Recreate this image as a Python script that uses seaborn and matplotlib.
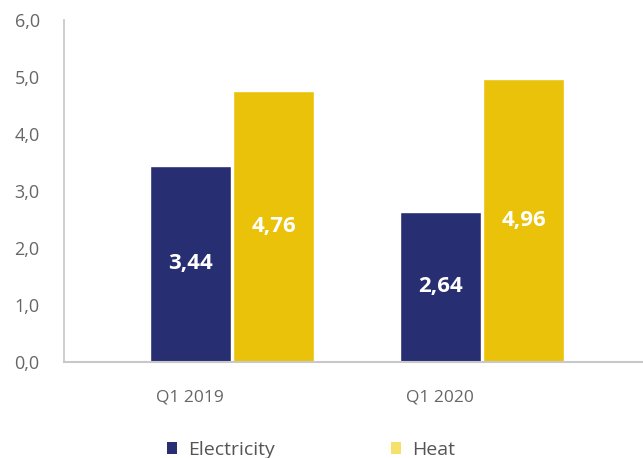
import matplotlib
matplotlib.use("Agg")
import matplotlib.pyplot as plt
import seaborn as sns
import pandas as pd
from matplotlib.patches import Patch

quarters = ["Q1 2019", "Q1 2020"]
electricity = [3.44, 2.64]
heat = [4.76, 4.96]
series = ["Electricity", "Heat"]
bar_colors = ["#282E72", "#EBC20A"]
legend_colors = ["#282E72", "#F5E06A"]

df = pd.DataFrame({
    "quarter": quarters * 2,
    "series": [series[0]] * 2 + [series[1]] * 2,
    "value": electricity + heat,
})

sns.set_theme(style="white")
plt.rcParams["font.family"] = ["Open Sans", "DejaVu Sans"]

fig = plt.figure(figsize=(6.43, 4.58), dpi=100)
ax = fig.add_axes([0.0995, 0.2096, 0.9005, 0.7467])

sns.barplot(data=df, x="quarter", y="value", hue="series", palette=bar_colors,
            width=0.665, gap=0.03, ax=ax, legend=False, saturation=1)

for cont in ax.containers:
    for bar in cont:
        h = bar.get_height()
        ax.text(bar.get_x() + bar.get_width() / 2, h / 2, f"{h:.2f}".replace(".", ","),
                ha="center", va="center", color="white", fontsize=16, fontweight="bold")

ax.set_ylim(0, 6)
ax.set_xlim(-0.672, 1.644)
ax.set_yticks([0, 1, 2, 3, 4, 5, 6])
ax.set_yticklabels([f"{v:.1f}".replace(".", ",") for v in range(7)], fontsize=13, color="#666666")
ax.set_xticks([-0.17, 0.83])
ax.set_xticklabels(quarters, fontsize=12.5, color="#666666")
ax.tick_params(axis="both", length=0)
ax.tick_params(axis="x", pad=20)
ax.tick_params(axis="y", pad=17.5)
ax.set_xlabel("")
ax.set_ylabel("")

for side in ["top", "right"]:
    ax.spines[side].set_visible(False)
ax.spines["left"].set_color("#C8C8C8")
ax.spines["bottom"].set_color("#C8C8C8")
ax.spines["bottom"].set_linewidth(1.5)

handles = [Patch(facecolor=c, edgecolor="none") for c in legend_colors]
fig.legend(handles, series, loc="lower left", bbox_to_anchor=(0.232, -0.04), ncol=2,
           frameon=False, fontsize=14, labelcolor="#555555", handlelength=0.55,
           handleheight=0.55, handletextpad=0.55, columnspacing=5.95)

fig.savefig("out.png", dpi=100)
